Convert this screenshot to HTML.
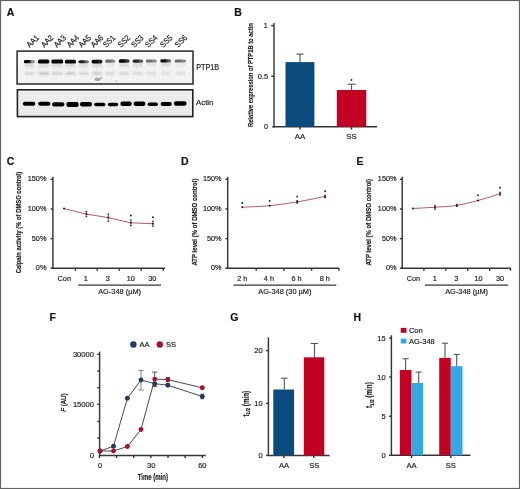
<!DOCTYPE html>
<html><head><meta charset="utf-8"><style>
html,body{margin:0;padding:0;background:#fff;}
body{width:520px;height:489px;overflow:hidden;}
svg{display:block;font-family:"Liberation Sans", sans-serif;will-change:transform;}
text{stroke:#222;stroke-width:0.18px;}
</style></head><body>
<svg width="520" height="489" viewBox="0 0 520 489">
<rect x="0" y="0" width="520" height="489" fill="#fff"/>
<defs><filter id="bl" x="-20%" y="-100%" width="140%" height="300%"><feGaussianBlur stdDeviation="0.75"/></filter><filter id="bl2" x="-20%" y="-100%" width="140%" height="300%"><feGaussianBlur stdDeviation="0.9"/></filter><linearGradient id="g1" x1="0" y1="0" x2="0" y2="1"><stop offset="0" stop-color="#fafafa"/><stop offset="0.35" stop-color="#f6f6f6"/><stop offset="0.6" stop-color="#f2f2f2"/><stop offset="1" stop-color="#f3f3f3"/></linearGradient><linearGradient id="g2" x1="0" y1="0" x2="0" y2="1"><stop offset="0" stop-color="#f2f2f2"/><stop offset="0.15" stop-color="#ececec"/><stop offset="1" stop-color="#e9e9e9"/></linearGradient></defs>
<text x="6.7" y="15.8" font-size="10.5" text-anchor="start" font-weight="bold" fill="#111" >A</text>
<text x="234.2" y="15.7" font-size="10.5" text-anchor="start" font-weight="bold" fill="#111" >B</text>
<text x="6.7" y="165" font-size="10.5" text-anchor="start" font-weight="bold" fill="#111" >C</text>
<text x="181.1" y="164.7" font-size="10.5" text-anchor="start" font-weight="bold" fill="#111" >D</text>
<text x="356.4" y="165" font-size="10.5" text-anchor="start" font-weight="bold" fill="#111" >E</text>
<text x="49.5" y="320.5" font-size="10.5" text-anchor="start" font-weight="bold" fill="#111" >F</text>
<text x="230.2" y="320.5" font-size="10.5" text-anchor="start" font-weight="bold" fill="#111" >G</text>
<text x="353.6" y="320.5" font-size="10.5" text-anchor="start" font-weight="bold" fill="#111" >H</text>
<rect x="17.1" y="51.1" width="175.9" height="32.9" fill="url(#g1)" stroke="#333" stroke-width="1.6"/>
<rect x="17.4" y="89.8" width="175.4" height="26.8" fill="url(#g2)" stroke="#222" stroke-width="1.6"/>
<defs><linearGradient id="pb0" x1="0" y1="0" x2="1" y2="0"><stop offset="0.15" stop-color="rgb(5,5,5)"/><stop offset="0.45" stop-color="rgb(5,5,5)"/><stop offset="0.75" stop-color="rgb(140,140,140)"/></linearGradient><linearGradient id="pb1" x1="0" y1="0" x2="1" y2="0"><stop offset="0.15" stop-color="rgb(5,5,5)"/><stop offset="0.45" stop-color="rgb(5,5,5)"/><stop offset="0.75" stop-color="rgb(5,5,5)"/></linearGradient><linearGradient id="pb2" x1="0" y1="0" x2="1" y2="0"><stop offset="0.15" stop-color="rgb(5,5,5)"/><stop offset="0.45" stop-color="rgb(5,5,5)"/><stop offset="0.75" stop-color="rgb(5,5,5)"/></linearGradient><linearGradient id="pb3" x1="0" y1="0" x2="1" y2="0"><stop offset="0.15" stop-color="rgb(5,5,5)"/><stop offset="0.45" stop-color="rgb(5,5,5)"/><stop offset="0.75" stop-color="rgb(16,16,16)"/></linearGradient><linearGradient id="pb4" x1="0" y1="0" x2="1" y2="0"><stop offset="0.15" stop-color="rgb(28,28,28)"/><stop offset="0.45" stop-color="rgb(28,28,28)"/><stop offset="0.75" stop-color="rgb(109,109,109)"/></linearGradient><linearGradient id="pb5" x1="0" y1="0" x2="1" y2="0"><stop offset="0.15" stop-color="rgb(5,5,5)"/><stop offset="0.45" stop-color="rgb(5,5,5)"/><stop offset="0.75" stop-color="rgb(28,28,28)"/></linearGradient><linearGradient id="pb6" x1="0" y1="0" x2="1" y2="0"><stop offset="0.15" stop-color="rgb(109,109,109)"/><stop offset="0.45" stop-color="rgb(109,109,109)"/><stop offset="0.75" stop-color="rgb(140,140,140)"/></linearGradient><linearGradient id="pb7" x1="0" y1="0" x2="1" y2="0"><stop offset="0.15" stop-color="rgb(5,5,5)"/><stop offset="0.45" stop-color="rgb(5,5,5)"/><stop offset="0.75" stop-color="rgb(56,56,56)"/></linearGradient><linearGradient id="pb8" x1="0" y1="0" x2="1" y2="0"><stop offset="0.15" stop-color="rgb(39,39,39)"/><stop offset="0.45" stop-color="rgb(39,39,39)"/><stop offset="0.75" stop-color="rgb(93,93,93)"/></linearGradient><linearGradient id="pb9" x1="0" y1="0" x2="1" y2="0"><stop offset="0.15" stop-color="rgb(109,109,109)"/><stop offset="0.45" stop-color="rgb(109,109,109)"/><stop offset="0.75" stop-color="rgb(140,140,140)"/></linearGradient><linearGradient id="pb10" x1="0" y1="0" x2="1" y2="0"><stop offset="0.15" stop-color="rgb(16,16,16)"/><stop offset="0.45" stop-color="rgb(16,16,16)"/><stop offset="0.75" stop-color="rgb(98,98,98)"/></linearGradient><linearGradient id="pb11" x1="0" y1="0" x2="1" y2="0"><stop offset="0.15" stop-color="rgb(109,109,109)"/><stop offset="0.45" stop-color="rgb(109,109,109)"/><stop offset="0.75" stop-color="rgb(140,140,140)"/></linearGradient></defs>
<rect x="24.3" y="62.8" width="9.8" height="5" fill="rgb(220,220,220)" filter="url(#bl2)"/>
<rect x="23.8" y="59.9" width="10.8" height="3.4" rx="1.6" fill="url(#pb0)" filter="url(#bl)"/>
<rect x="24.3" y="72" width="9.8" height="2.8" rx="1.2" fill="rgb(208,208,208)" filter="url(#bl2)"/>
<rect x="38.4" y="63.1" width="10.5" height="5" fill="rgb(220,220,220)" filter="url(#bl2)"/>
<rect x="37.9" y="59.6" width="11.5" height="4.0" rx="1.6" fill="url(#pb1)" filter="url(#bl)"/>
<rect x="38.4" y="72" width="10.5" height="2.8" rx="1.2" fill="rgb(195,195,195)" filter="url(#bl2)"/>
<rect x="51.8" y="63.1" width="10.900000000000006" height="5" fill="rgb(220,220,220)" filter="url(#bl2)"/>
<rect x="51.3" y="59.6" width="11.900000000000006" height="4.0" rx="1.6" fill="url(#pb2)" filter="url(#bl)"/>
<rect x="51.8" y="72" width="10.900000000000006" height="2.8" rx="1.2" fill="rgb(204,204,204)" filter="url(#bl2)"/>
<rect x="65.3" y="63.0" width="10.200000000000003" height="5" fill="rgb(220,220,220)" filter="url(#bl2)"/>
<rect x="64.8" y="59.7" width="11.200000000000003" height="3.8" rx="1.6" fill="url(#pb3)" filter="url(#bl)"/>
<rect x="65.3" y="72" width="10.200000000000003" height="2.8" rx="1.2" fill="rgb(198,198,198)" filter="url(#bl2)"/>
<rect x="78.9" y="62.7" width="9.399999999999991" height="5" fill="rgb(222,222,222)" filter="url(#bl2)"/>
<rect x="78.4" y="60.2" width="10.399999999999991" height="3.0" rx="1.6" fill="url(#pb4)" filter="url(#bl)"/>
<rect x="78.9" y="72" width="9.399999999999991" height="2.8" rx="1.2" fill="rgb(208,208,208)" filter="url(#bl2)"/>
<rect x="92.1" y="62.9" width="9.800000000000011" height="5" fill="rgb(220,220,220)" filter="url(#bl2)"/>
<rect x="91.6" y="59.8" width="10.800000000000011" height="3.6" rx="1.6" fill="url(#pb5)" filter="url(#bl)"/>
<rect x="92.1" y="72" width="9.800000000000011" height="2.8" rx="1.2" fill="rgb(201,201,201)" filter="url(#bl2)"/>
<rect x="105.7" y="62.300000000000004" width="9.0" height="5" fill="rgb(231,231,231)" filter="url(#bl2)"/>
<rect x="105.2" y="59.6" width="10.0" height="3.2" rx="1.6" fill="url(#pb6)" filter="url(#bl)"/>
<rect x="105.7" y="72" width="9.0" height="2.8" rx="1.2" fill="rgb(208,208,208)" filter="url(#bl2)"/>
<rect x="119.3" y="62.300000000000004" width="9.600000000000009" height="5" fill="rgb(220,220,220)" filter="url(#bl2)"/>
<rect x="118.8" y="59.2" width="10.600000000000009" height="3.6" rx="1.6" fill="url(#pb7)" filter="url(#bl)"/>
<rect x="119.3" y="72" width="9.600000000000009" height="2.8" rx="1.2" fill="rgb(208,208,208)" filter="url(#bl2)"/>
<rect x="133.1" y="62.3" width="9.599999999999994" height="5" fill="rgb(223,223,223)" filter="url(#bl2)"/>
<rect x="132.6" y="59.4" width="10.599999999999994" height="3.4" rx="1.6" fill="url(#pb8)" filter="url(#bl)"/>
<rect x="133.1" y="72" width="9.599999999999994" height="2.8" rx="1.2" fill="rgb(211,211,211)" filter="url(#bl2)"/>
<rect x="146.3" y="62.1" width="10.0" height="5" fill="rgb(231,231,231)" filter="url(#bl2)"/>
<rect x="145.8" y="59.6" width="11.0" height="3.0" rx="1.6" fill="url(#pb9)" filter="url(#bl)"/>
<rect x="146.3" y="72" width="10.0" height="2.8" rx="1.2" fill="rgb(217,217,217)" filter="url(#bl2)"/>
<rect x="160.8" y="62.1" width="9.699999999999989" height="5" fill="rgb(221,221,221)" filter="url(#bl2)"/>
<rect x="160.3" y="59.2" width="10.699999999999989" height="3.4" rx="1.6" fill="url(#pb10)" filter="url(#bl)"/>
<rect x="160.8" y="72" width="9.699999999999989" height="2.8" rx="1.2" fill="rgb(220,220,220)" filter="url(#bl2)"/>
<rect x="175.1" y="62.1" width="10.400000000000006" height="5" fill="rgb(231,231,231)" filter="url(#bl2)"/>
<rect x="174.6" y="59.4" width="11.400000000000006" height="3.2" rx="1.6" fill="url(#pb11)" filter="url(#bl)"/>
<rect x="175.1" y="72" width="10.400000000000006" height="2.8" rx="1.2" fill="rgb(220,220,220)" filter="url(#bl2)"/>
<ellipse cx="97.5" cy="79.2" rx="3" ry="1.8" fill="#a8a8a8" filter="url(#bl)"/>
<ellipse cx="101.2" cy="78" rx="1.3" ry="1" fill="#b0b0b0" filter="url(#bl)"/>
<ellipse cx="116.5" cy="80.8" rx="0.9" ry="0.9" fill="#b8b8b8" filter="url(#bl)"/>
<rect x="22.8" y="101.7" width="12.499999999999996" height="4.0" rx="2" fill="#050505" filter="url(#bl)"/>
<rect x="38.2" y="101.7" width="12.199999999999996" height="4.0" rx="2" fill="#050505" filter="url(#bl)"/>
<rect x="52.1" y="102.2" width="12.300000000000004" height="4.4" rx="2" fill="#050505" filter="url(#bl)"/>
<rect x="66.4" y="101.9" width="12.199999999999989" height="5.0" rx="2" fill="#050505" filter="url(#bl)"/>
<rect x="80" y="102" width="12" height="4.4" rx="2" fill="#050505" filter="url(#bl)"/>
<rect x="94.1" y="102.8" width="11.300000000000011" height="3.5" rx="2" fill="#050505" filter="url(#bl)"/>
<rect x="107.8" y="102.8" width="10.400000000000006" height="3.4" rx="2" fill="#050505" filter="url(#bl)"/>
<rect x="120.4" y="101.6" width="11.299999999999983" height="4.3" rx="2" fill="#050505" filter="url(#bl)"/>
<rect x="133.7" y="101.6" width="11.600000000000023" height="4.5" rx="2" fill="#050505" filter="url(#bl)"/>
<rect x="147.6" y="102.5" width="10.400000000000006" height="3.5" rx="2" fill="#050505" filter="url(#bl)"/>
<rect x="160.6" y="102.1" width="11.200000000000017" height="4.0" rx="2" fill="#050505" filter="url(#bl)"/>
<rect x="174" y="101.3" width="12.5" height="4.5" rx="2" fill="#050505" filter="url(#bl)"/>
<text class="lb" transform="translate(29.8,48.0) rotate(-45)" font-size="8.2" fill="#222" textLength="13.7" lengthAdjust="spacingAndGlyphs">AA1</text>
<text class="lb" transform="translate(44.2,48.0) rotate(-45)" font-size="8.2" fill="#222" textLength="13.7" lengthAdjust="spacingAndGlyphs">AA2</text>
<text class="lb" transform="translate(56.9,48.0) rotate(-45)" font-size="8.2" fill="#222" textLength="13.7" lengthAdjust="spacingAndGlyphs">AA3</text>
<text class="lb" transform="translate(69.9,48.0) rotate(-45)" font-size="8.2" fill="#222" textLength="13.7" lengthAdjust="spacingAndGlyphs">AA4</text>
<text class="lb" transform="translate(81.8,48.0) rotate(-45)" font-size="8.2" fill="#222" textLength="13.7" lengthAdjust="spacingAndGlyphs">AA5</text>
<text class="lb" transform="translate(94.1,48.0) rotate(-45)" font-size="8.2" fill="#222" textLength="13.7" lengthAdjust="spacingAndGlyphs">AA6</text>
<text class="lb" transform="translate(106.2,48.0) rotate(-45)" font-size="8.2" fill="#222" textLength="13.7" lengthAdjust="spacingAndGlyphs">SS1</text>
<text class="lb" transform="translate(121,48.0) rotate(-45)" font-size="8.2" fill="#222" textLength="13.7" lengthAdjust="spacingAndGlyphs">SS2</text>
<text class="lb" transform="translate(134.5,48.0) rotate(-45)" font-size="8.2" fill="#222" textLength="13.7" lengthAdjust="spacingAndGlyphs">SS3</text>
<text class="lb" transform="translate(148.3,48.0) rotate(-45)" font-size="8.2" fill="#222" textLength="13.7" lengthAdjust="spacingAndGlyphs">SS4</text>
<text class="lb" transform="translate(163.3,48.0) rotate(-45)" font-size="8.2" fill="#222" textLength="13.7" lengthAdjust="spacingAndGlyphs">SS5</text>
<text class="lb" transform="translate(178,48.0) rotate(-45)" font-size="8.2" fill="#222" textLength="13.7" lengthAdjust="spacingAndGlyphs">SS6</text>
<text x="196.2" y="70.1" font-size="8.2" text-anchor="start" font-weight="normal" fill="#222" textLength="23" lengthAdjust="spacingAndGlyphs">PTP1B</text>
<text x="196.1" y="105.3" font-size="7.8" text-anchor="start" font-weight="normal" fill="#222" >Actin</text>
<line x1="274" y1="22.9" x2="274" y2="127.4" stroke="#363636" stroke-width="1.45"/>
<line x1="272.2" y1="126.8" x2="377" y2="126.8" stroke="#363636" stroke-width="1.45"/>
<line x1="271.2" y1="25.6" x2="274" y2="25.6" stroke="#363636" stroke-width="1.45"/>
<line x1="271.2" y1="76.2" x2="274" y2="76.2" stroke="#363636" stroke-width="1.45"/>
<line x1="300" y1="126.8" x2="300" y2="129.6" stroke="#363636" stroke-width="1.45"/>
<line x1="351.5" y1="126.8" x2="351.5" y2="129.6" stroke="#363636" stroke-width="1.45"/>
<rect x="285.5" y="62.1" width="28.9" height="64.7" fill="#0b4a7d"/>
<rect x="336.8" y="90" width="29.5" height="36.8" fill="#c20024"/>
<line x1="300" y1="62.1" x2="300" y2="54.1" stroke="#555" stroke-width="1.1"/>
<line x1="296.5" y1="54.1" x2="303.7" y2="54.1" stroke="#555" stroke-width="1.1"/>
<line x1="351.5" y1="90" x2="351.5" y2="84.2" stroke="#555" stroke-width="1.1"/>
<line x1="347.5" y1="84.2" x2="355.6" y2="84.2" stroke="#555" stroke-width="1.1"/>
<circle cx="351.5" cy="80" r="0.9" fill="#222"/>
<text x="267.6" y="28.1" font-size="7" text-anchor="end" font-weight="normal" fill="#222" >1</text>
<text x="268" y="78.8" font-size="7.4" text-anchor="end" font-weight="normal" fill="#222" >0.5</text>
<text x="268" y="129.3" font-size="7.4" text-anchor="end" font-weight="normal" fill="#222" >0</text>
<text x="300" y="139.4" font-size="7.8" text-anchor="middle" font-weight="normal" fill="#222" >AA</text>
<text x="351.5" y="139.4" font-size="7.8" text-anchor="middle" font-weight="normal" fill="#222" >SS</text>
<text class="yl" transform="translate(252.6,75.1) rotate(-90)" x="0" y="0" font-size="7.9" font-weight="bold" text-anchor="middle" fill="#222" textLength="103.6" lengthAdjust="spacingAndGlyphs">Relative expression of PTP1B to actin</text>
<line x1="52.9" y1="176.8" x2="52.9" y2="268.8" stroke="#363636" stroke-width="1.45"/>
<line x1="51.699999999999996" y1="268.2" x2="165" y2="268.2" stroke="#363636" stroke-width="1.45"/>
<line x1="50.6" y1="179.3" x2="52.9" y2="179.3" stroke="#363636" stroke-width="1.45"/>
<text x="46.4" y="181.20000000000002" font-size="7.3" text-anchor="end" font-weight="normal" fill="#222" >150%</text>
<line x1="50.6" y1="209" x2="52.9" y2="209" stroke="#363636" stroke-width="1.45"/>
<text x="46.4" y="210.9" font-size="7.3" text-anchor="end" font-weight="normal" fill="#222" >100%</text>
<line x1="50.6" y1="238.6" x2="52.9" y2="238.6" stroke="#363636" stroke-width="1.45"/>
<text x="46.4" y="240.5" font-size="7.3" text-anchor="end" font-weight="normal" fill="#222" >50%</text>
<line x1="50.6" y1="268.2" x2="52.9" y2="268.2" stroke="#363636" stroke-width="1.45"/>
<text x="46.4" y="270.09999999999997" font-size="7.3" text-anchor="end" font-weight="normal" fill="#222" >0%</text>
<line x1="75.4" y1="268.2" x2="75.4" y2="270.8" stroke="#363636" stroke-width="1.45"/>
<line x1="97.3" y1="268.2" x2="97.3" y2="270.8" stroke="#363636" stroke-width="1.45"/>
<line x1="119.3" y1="268.2" x2="119.3" y2="270.8" stroke="#363636" stroke-width="1.45"/>
<line x1="141.2" y1="268.2" x2="141.2" y2="270.8" stroke="#363636" stroke-width="1.45"/>
<line x1="163.2" y1="268.2" x2="163.2" y2="270.8" stroke="#363636" stroke-width="1.45"/>
<text x="64.3" y="280.6" font-size="7.3" text-anchor="middle" font-weight="normal" fill="#222" >Con</text>
<text x="85.8" y="280.6" font-size="7.3" text-anchor="middle" font-weight="normal" fill="#222" >1</text>
<text x="107.7" y="280.6" font-size="7.3" text-anchor="middle" font-weight="normal" fill="#222" >3</text>
<text x="130.8" y="280.6" font-size="7.3" text-anchor="middle" font-weight="normal" fill="#222" >10</text>
<text x="152.3" y="280.6" font-size="7.3" text-anchor="middle" font-weight="normal" fill="#222" >30</text>
<line x1="78.2" y1="285.1" x2="161" y2="285.1" stroke="#363636" stroke-width="1.1"/>
<text x="119.6" y="294.4" font-size="7.4" text-anchor="middle" font-weight="normal" fill="#222" >AG-348 (µM)</text>
<text class="yl" transform="translate(21.2,222.6) rotate(-90)" x="0" y="0" font-size="7.9" font-weight="bold" text-anchor="middle" fill="#222" textLength="101.5" lengthAdjust="spacingAndGlyphs">Calpain activity (% of DMSO control)</text>
<path d="M64,208.6 L86.4,214.1 L108.3,217.6 L130.8,222.8 L152.9,223.7" fill="none" stroke="#b44e66" stroke-width="0.95"/>
<circle cx="64" cy="208.6" r="1.05" fill="#222"/>
<line x1="86.4" y1="211.5" x2="86.4" y2="216.7" stroke="#444" stroke-width="0.7"/>
<line x1="85.5" y1="211.5" x2="87.30000000000001" y2="211.5" stroke="#333" stroke-width="1.1"/>
<line x1="85.5" y1="216.7" x2="87.30000000000001" y2="216.7" stroke="#333" stroke-width="1.1"/>
<circle cx="86.4" cy="214.1" r="1.05" fill="#222"/>
<line x1="108.3" y1="214.0" x2="108.3" y2="221.2" stroke="#444" stroke-width="0.7"/>
<line x1="107.39999999999999" y1="214.0" x2="109.2" y2="214.0" stroke="#333" stroke-width="1.1"/>
<line x1="107.39999999999999" y1="221.2" x2="109.2" y2="221.2" stroke="#333" stroke-width="1.1"/>
<circle cx="108.3" cy="217.6" r="1.05" fill="#222"/>
<line x1="130.8" y1="220.0" x2="130.8" y2="225.60000000000002" stroke="#444" stroke-width="0.7"/>
<line x1="129.9" y1="220.0" x2="131.70000000000002" y2="220.0" stroke="#333" stroke-width="1.1"/>
<line x1="129.9" y1="225.60000000000002" x2="131.70000000000002" y2="225.60000000000002" stroke="#333" stroke-width="1.1"/>
<circle cx="130.8" cy="222.8" r="1.05" fill="#222"/>
<line x1="152.9" y1="221.2" x2="152.9" y2="226.2" stroke="#444" stroke-width="0.7"/>
<line x1="152.0" y1="221.2" x2="153.8" y2="221.2" stroke="#333" stroke-width="1.1"/>
<line x1="152.0" y1="226.2" x2="153.8" y2="226.2" stroke="#333" stroke-width="1.1"/>
<circle cx="152.9" cy="223.7" r="1.05" fill="#222"/>
<circle cx="130.8" cy="215.5" r="0.95" fill="#222"/>
<circle cx="152.9" cy="217.3" r="0.95" fill="#222"/>
<line x1="227.7" y1="176.8" x2="227.7" y2="268.8" stroke="#363636" stroke-width="1.45"/>
<line x1="226.5" y1="268.2" x2="339" y2="268.2" stroke="#363636" stroke-width="1.45"/>
<line x1="225.39999999999998" y1="179.3" x2="227.7" y2="179.3" stroke="#363636" stroke-width="1.45"/>
<text x="221.6" y="181.20000000000002" font-size="7.3" text-anchor="end" font-weight="normal" fill="#222" >150%</text>
<line x1="225.39999999999998" y1="209" x2="227.7" y2="209" stroke="#363636" stroke-width="1.45"/>
<text x="221.6" y="210.9" font-size="7.3" text-anchor="end" font-weight="normal" fill="#222" >100%</text>
<line x1="225.39999999999998" y1="238.6" x2="227.7" y2="238.6" stroke="#363636" stroke-width="1.45"/>
<text x="221.6" y="240.5" font-size="7.3" text-anchor="end" font-weight="normal" fill="#222" >50%</text>
<line x1="225.39999999999998" y1="268.2" x2="227.7" y2="268.2" stroke="#363636" stroke-width="1.45"/>
<text x="221.6" y="270.09999999999997" font-size="7.3" text-anchor="end" font-weight="normal" fill="#222" >0%</text>
<line x1="256.2" y1="268.2" x2="256.2" y2="270.8" stroke="#363636" stroke-width="1.45"/>
<line x1="283.9" y1="268.2" x2="283.9" y2="270.8" stroke="#363636" stroke-width="1.45"/>
<line x1="311.6" y1="268.2" x2="311.6" y2="270.8" stroke="#363636" stroke-width="1.45"/>
<line x1="338.9" y1="268.2" x2="338.9" y2="270.8" stroke="#363636" stroke-width="1.45"/>
<text x="242.3" y="280.6" font-size="7.3" text-anchor="middle" font-weight="normal" fill="#222" >2 h</text>
<text x="268.9" y="280.6" font-size="7.3" text-anchor="middle" font-weight="normal" fill="#222" >4 h</text>
<text x="296.6" y="280.6" font-size="7.3" text-anchor="middle" font-weight="normal" fill="#222" >6 h</text>
<text x="324.8" y="280.6" font-size="7.3" text-anchor="middle" font-weight="normal" fill="#222" >8 h</text>
<line x1="233.5" y1="285.1" x2="336.3" y2="285.1" stroke="#363636" stroke-width="1.1"/>
<text x="284.9" y="294.4" font-size="7.4" text-anchor="middle" font-weight="normal" fill="#222" >AG-348 (30 µM)</text>
<text class="yl" transform="translate(196.8,222.1) rotate(-90)" x="0" y="0" font-size="7.9" font-weight="bold" text-anchor="middle" fill="#222" textLength="87" lengthAdjust="spacingAndGlyphs">ATP level (% of DMSO control)</text>
<path d="M242.3,207.2 C246.87,206.95 260.55,206.58 269.7,205.7 C278.85,204.82 287.97,203.45 297.2,201.9 C306.43,200.35 320.45,197.32 325.1,196.4" fill="none" stroke="#b44e66" stroke-width="0.95"/>
<circle cx="242.3" cy="207.2" r="1.05" fill="#222"/>
<circle cx="269.7" cy="205.7" r="1.05" fill="#222"/>
<line x1="297.2" y1="200.70000000000002" x2="297.2" y2="203.1" stroke="#444" stroke-width="0.7"/>
<line x1="296.3" y1="200.70000000000002" x2="298.09999999999997" y2="200.70000000000002" stroke="#333" stroke-width="1.1"/>
<line x1="296.3" y1="203.1" x2="298.09999999999997" y2="203.1" stroke="#333" stroke-width="1.1"/>
<circle cx="297.2" cy="201.9" r="1.05" fill="#222"/>
<line x1="325.1" y1="195.20000000000002" x2="325.1" y2="197.6" stroke="#444" stroke-width="0.7"/>
<line x1="324.20000000000005" y1="195.20000000000002" x2="326.0" y2="195.20000000000002" stroke="#333" stroke-width="1.1"/>
<line x1="324.20000000000005" y1="197.6" x2="326.0" y2="197.6" stroke="#333" stroke-width="1.1"/>
<circle cx="325.1" cy="196.4" r="1.05" fill="#222"/>
<circle cx="242.3" cy="203" r="0.95" fill="#222"/>
<circle cx="269.7" cy="200.9" r="0.95" fill="#222"/>
<circle cx="297.2" cy="196.6" r="0.95" fill="#222"/>
<circle cx="325.1" cy="191.3" r="0.95" fill="#222"/>
<line x1="402.2" y1="176.8" x2="402.2" y2="268.8" stroke="#363636" stroke-width="1.45"/>
<line x1="401.0" y1="268.2" x2="511" y2="268.2" stroke="#363636" stroke-width="1.45"/>
<line x1="399.9" y1="179.3" x2="402.2" y2="179.3" stroke="#363636" stroke-width="1.45"/>
<text x="396.5" y="181.20000000000002" font-size="7.3" text-anchor="end" font-weight="normal" fill="#222" >150%</text>
<line x1="399.9" y1="209" x2="402.2" y2="209" stroke="#363636" stroke-width="1.45"/>
<text x="396.5" y="210.9" font-size="7.3" text-anchor="end" font-weight="normal" fill="#222" >100%</text>
<line x1="399.9" y1="238.6" x2="402.2" y2="238.6" stroke="#363636" stroke-width="1.45"/>
<text x="396.5" y="240.5" font-size="7.3" text-anchor="end" font-weight="normal" fill="#222" >50%</text>
<line x1="399.9" y1="268.2" x2="402.2" y2="268.2" stroke="#363636" stroke-width="1.45"/>
<text x="396.5" y="270.09999999999997" font-size="7.3" text-anchor="end" font-weight="normal" fill="#222" >0%</text>
<line x1="423.9" y1="268.2" x2="423.9" y2="270.8" stroke="#363636" stroke-width="1.45"/>
<line x1="445.8" y1="268.2" x2="445.8" y2="270.8" stroke="#363636" stroke-width="1.45"/>
<line x1="467.7" y1="268.2" x2="467.7" y2="270.8" stroke="#363636" stroke-width="1.45"/>
<line x1="489.7" y1="268.2" x2="489.7" y2="270.8" stroke="#363636" stroke-width="1.45"/>
<line x1="510.5" y1="268.2" x2="510.5" y2="270.8" stroke="#363636" stroke-width="1.45"/>
<text x="413.5" y="280.6" font-size="7.3" text-anchor="middle" font-weight="normal" fill="#222" >Con</text>
<text x="434.7" y="280.6" font-size="7.3" text-anchor="middle" font-weight="normal" fill="#222" >1</text>
<text x="456.2" y="280.6" font-size="7.3" text-anchor="middle" font-weight="normal" fill="#222" >3</text>
<text x="478.6" y="280.6" font-size="7.3" text-anchor="middle" font-weight="normal" fill="#222" >10</text>
<text x="500" y="280.6" font-size="7.3" text-anchor="middle" font-weight="normal" fill="#222" >30</text>
<line x1="425" y1="285.1" x2="508.2" y2="285.1" stroke="#363636" stroke-width="1.1"/>
<text x="466.6" y="294.4" font-size="7.4" text-anchor="middle" font-weight="normal" fill="#222" >AG-348 (µM)</text>
<text class="yl" transform="translate(370.6,222.3) rotate(-90)" x="0" y="0" font-size="7.9" font-weight="bold" text-anchor="middle" fill="#222" textLength="86.6" lengthAdjust="spacingAndGlyphs">ATP level (% of DMSO control)</text>
<path d="M413,208.5 C416.67,208.28 427.70,207.72 435,207.2 C442.30,206.68 449.63,206.52 456.8,205.4 C463.97,204.28 470.78,202.45 478,200.5 C485.22,198.55 496.42,194.83 500.1,193.7" fill="none" stroke="#b44e66" stroke-width="0.95"/>
<circle cx="413" cy="208.5" r="1.05" fill="#222"/>
<line x1="435" y1="205.29999999999998" x2="435" y2="209.1" stroke="#444" stroke-width="0.7"/>
<line x1="434.1" y1="205.29999999999998" x2="435.9" y2="205.29999999999998" stroke="#333" stroke-width="1.1"/>
<line x1="434.1" y1="209.1" x2="435.9" y2="209.1" stroke="#333" stroke-width="1.1"/>
<circle cx="435" cy="207.2" r="1.05" fill="#222"/>
<line x1="456.8" y1="204.4" x2="456.8" y2="206.4" stroke="#444" stroke-width="0.7"/>
<line x1="455.90000000000003" y1="204.4" x2="457.7" y2="204.4" stroke="#333" stroke-width="1.1"/>
<line x1="455.90000000000003" y1="206.4" x2="457.7" y2="206.4" stroke="#333" stroke-width="1.1"/>
<circle cx="456.8" cy="205.4" r="1.05" fill="#222"/>
<circle cx="478" cy="200.5" r="1.05" fill="#222"/>
<line x1="500.1" y1="192.2" x2="500.1" y2="195.2" stroke="#444" stroke-width="0.7"/>
<line x1="499.20000000000005" y1="192.2" x2="501.0" y2="192.2" stroke="#333" stroke-width="1.1"/>
<line x1="499.20000000000005" y1="195.2" x2="501.0" y2="195.2" stroke="#333" stroke-width="1.1"/>
<circle cx="500.1" cy="193.7" r="1.05" fill="#222"/>
<circle cx="478" cy="195.2" r="0.95" fill="#222"/>
<circle cx="500.1" cy="187.8" r="0.95" fill="#222"/>
<line x1="99.6" y1="351.6" x2="99.6" y2="456" stroke="#363636" stroke-width="1.45"/>
<line x1="99.0" y1="455.4" x2="205.8" y2="455.4" stroke="#363636" stroke-width="1.45"/>
<line x1="97.3" y1="354.3" x2="99.6" y2="354.3" stroke="#363636" stroke-width="1.45"/>
<line x1="97.3" y1="404.4" x2="99.6" y2="404.4" stroke="#363636" stroke-width="1.45"/>
<line x1="97.3" y1="371.1" x2="99.6" y2="371.1" stroke="#363636" stroke-width="1.45"/>
<line x1="97.3" y1="387.6" x2="99.6" y2="387.6" stroke="#363636" stroke-width="1.45"/>
<line x1="97.3" y1="421.4" x2="99.6" y2="421.4" stroke="#363636" stroke-width="1.45"/>
<line x1="97.3" y1="438.1" x2="99.6" y2="438.1" stroke="#363636" stroke-width="1.45"/>
<line x1="99.4" y1="455.4" x2="99.4" y2="458" stroke="#363636" stroke-width="1.45"/>
<line x1="116.55000000000001" y1="455.4" x2="116.55000000000001" y2="458" stroke="#363636" stroke-width="1.45"/>
<line x1="133.7" y1="455.4" x2="133.7" y2="458" stroke="#363636" stroke-width="1.45"/>
<line x1="150.85" y1="455.4" x2="150.85" y2="458" stroke="#363636" stroke-width="1.45"/>
<line x1="168.0" y1="455.4" x2="168.0" y2="458" stroke="#363636" stroke-width="1.45"/>
<line x1="185.15" y1="455.4" x2="185.15" y2="458" stroke="#363636" stroke-width="1.45"/>
<line x1="202.3" y1="455.4" x2="202.3" y2="458" stroke="#363636" stroke-width="1.45"/>
<text x="94" y="356.8" font-size="7.6" text-anchor="end" font-weight="normal" fill="#222" >30000</text>
<text x="94" y="407" font-size="7.6" text-anchor="end" font-weight="normal" fill="#222" >15000</text>
<text x="94" y="458" font-size="7.6" text-anchor="end" font-weight="normal" fill="#222" >0</text>
<text x="100" y="467.8" font-size="7.5" text-anchor="middle" font-weight="normal" fill="#222" >0</text>
<text x="151.2" y="467.8" font-size="7.5" text-anchor="middle" font-weight="normal" fill="#222" >30</text>
<text x="202.3" y="467.8" font-size="7.5" text-anchor="middle" font-weight="normal" fill="#222" >60</text>
<text x="152.8" y="479.7" font-size="8.2" text-anchor="middle" font-weight="bold" fill="#222" textLength="30.2" lengthAdjust="spacingAndGlyphs">Time (min)</text>
<text transform="translate(66,402.6) rotate(-90)" font-size="8" style="stroke-width:0.35px" text-anchor="middle" fill="#222" textLength="18.4" lengthAdjust="spacingAndGlyphs"><tspan font-style="italic">F</tspan> (AU)</text>
<line x1="141" y1="370.6" x2="141" y2="389.9" stroke="#777" stroke-width="0.9"/>
<line x1="138.3" y1="370.6" x2="143.8" y2="370.6" stroke="#777" stroke-width="0.9"/>
<line x1="138.3" y1="389.9" x2="143.8" y2="389.9" stroke="#777" stroke-width="0.9"/>
<line x1="154.7" y1="372.1" x2="154.7" y2="379" stroke="#444" stroke-width="0.9"/>
<line x1="152" y1="372.1" x2="157.2" y2="372.1" stroke="#444" stroke-width="0.9"/>
<line x1="154.7" y1="383.7" x2="154.7" y2="386.5" stroke="#444" stroke-width="0.9"/>
<line x1="152.5" y1="386.5" x2="157" y2="386.5" stroke="#444" stroke-width="0.9"/>
<line x1="202.3" y1="394.2" x2="202.3" y2="398.8" stroke="#444" stroke-width="0.9"/>
<line x1="200.5" y1="394.2" x2="204" y2="394.2" stroke="#444" stroke-width="0.9"/>
<line x1="200.5" y1="398.8" x2="204" y2="398.8" stroke="#444" stroke-width="0.9"/>
<line x1="167.8" y1="377.5" x2="167.8" y2="381.7" stroke="#444" stroke-width="0.9"/>
<line x1="165.8" y1="377.5" x2="169.8" y2="377.5" stroke="#444" stroke-width="0.9"/>
<line x1="165.8" y1="381.7" x2="169.8" y2="381.7" stroke="#444" stroke-width="0.9"/>
<polyline points="100,451 113.5,446.2 127.4,398.3 141,380 154.7,383.7 167.8,385.2 202.3,396.5" fill="none" stroke="#333" stroke-width="0.9"/>
<polyline points="100,451 113.5,451 127.4,446.5 141,429.5 154.7,379.1 167.8,379.6 202.3,387.8" fill="none" stroke="#333" stroke-width="0.9"/>
<circle cx="100" cy="451" r="2.45" fill="#1f3a5e"/>
<circle cx="113.5" cy="446.2" r="2.45" fill="#1f3a5e"/>
<circle cx="127.4" cy="398.3" r="2.45" fill="#1f3a5e"/>
<circle cx="141" cy="380" r="2.45" fill="#1f3a5e"/>
<circle cx="154.7" cy="383.7" r="2.45" fill="#1f3a5e"/>
<circle cx="167.8" cy="385.2" r="2.45" fill="#1f3a5e"/>
<circle cx="202.3" cy="396.5" r="2.45" fill="#1f3a5e"/>
<circle cx="100" cy="451" r="2.45" fill="#a3122e"/>
<circle cx="113.5" cy="451" r="2.45" fill="#a3122e"/>
<circle cx="127.4" cy="446.5" r="2.45" fill="#a3122e"/>
<circle cx="141" cy="429.5" r="2.45" fill="#a3122e"/>
<circle cx="154.7" cy="379.1" r="2.45" fill="#a3122e"/>
<circle cx="167.8" cy="379.6" r="2.45" fill="#a3122e"/>
<circle cx="202.3" cy="387.8" r="2.45" fill="#a3122e"/>
<circle cx="133.4" cy="344.5" r="3.2" fill="#1f3a5e"/>
<circle cx="159.8" cy="344.5" r="3.2" fill="#a3122e"/>
<text x="139.4" y="347.2" font-size="7.5" text-anchor="start" font-weight="normal" fill="#222" >AA</text>
<text x="166" y="347.2" font-size="7.5" text-anchor="start" font-weight="normal" fill="#222" >SS</text>
<line x1="268.4" y1="337.4" x2="268.4" y2="456" stroke="#363636" stroke-width="1.45"/>
<line x1="267.79999999999995" y1="455.4" x2="329.6" y2="455.4" stroke="#363636" stroke-width="1.45"/>
<line x1="266.09999999999997" y1="350.6" x2="268.4" y2="350.6" stroke="#363636" stroke-width="1.45"/>
<text x="262.7" y="353.20000000000005" font-size="7.5" text-anchor="end" font-weight="normal" fill="#222" >20</text>
<line x1="266.09999999999997" y1="403.4" x2="268.4" y2="403.4" stroke="#363636" stroke-width="1.45"/>
<text x="262.7" y="406.0" font-size="7.5" text-anchor="end" font-weight="normal" fill="#222" >10</text>
<line x1="266.09999999999997" y1="455.4" x2="268.4" y2="455.4" stroke="#363636" stroke-width="1.45"/>
<text x="262.7" y="458.0" font-size="7.5" text-anchor="end" font-weight="normal" fill="#222" >0</text>
<line x1="283.8" y1="455.4" x2="283.8" y2="458" stroke="#363636" stroke-width="1.45"/>
<line x1="313.8" y1="455.4" x2="313.8" y2="458" stroke="#363636" stroke-width="1.45"/>
<rect x="273.3" y="389.5" width="20.8" height="65.9" fill="#0b4a7d"/>
<rect x="303.8" y="357.3" width="20.5" height="98.1" fill="#c20024"/>
<line x1="284.3" y1="389.5" x2="284.3" y2="378.2" stroke="#555" stroke-width="1.1"/>
<line x1="280.8" y1="378.2" x2="287.6" y2="378.2" stroke="#555" stroke-width="1.1"/>
<line x1="314.5" y1="357.3" x2="314.5" y2="343.5" stroke="#555" stroke-width="1.1"/>
<line x1="310.8" y1="343.5" x2="318.2" y2="343.5" stroke="#555" stroke-width="1.1"/>
<text x="284" y="467.9" font-size="7.6" text-anchor="middle" font-weight="normal" fill="#222" >AA</text>
<text x="314.2" y="467.9" font-size="7.6" text-anchor="middle" font-weight="normal" fill="#222" >SS</text>
<text transform="translate(248.5,416.6) rotate(-90) scale(0.77,1)" font-size="8.2" font-weight="bold" fill="#222">t<tspan font-size="6.2" dy="1.8">1/2</tspan><tspan dy="-1.8" dx="2.2">(min)</tspan></text>
<line x1="391.4" y1="335.3" x2="391.4" y2="456" stroke="#363636" stroke-width="1.45"/>
<line x1="390.79999999999995" y1="455.3" x2="470.5" y2="455.3" stroke="#363636" stroke-width="1.45"/>
<line x1="389.09999999999997" y1="338" x2="391.4" y2="338" stroke="#363636" stroke-width="1.45"/>
<text x="385.6" y="340.6" font-size="7.5" text-anchor="end" font-weight="normal" fill="#222" >15</text>
<line x1="389.09999999999997" y1="377" x2="391.4" y2="377" stroke="#363636" stroke-width="1.45"/>
<text x="385.6" y="379.6" font-size="7.5" text-anchor="end" font-weight="normal" fill="#222" >10</text>
<line x1="389.09999999999997" y1="416.3" x2="391.4" y2="416.3" stroke="#363636" stroke-width="1.45"/>
<text x="385.6" y="418.90000000000003" font-size="7.5" text-anchor="end" font-weight="normal" fill="#222" >5</text>
<line x1="389.09999999999997" y1="455.3" x2="391.4" y2="455.3" stroke="#363636" stroke-width="1.45"/>
<text x="385.6" y="457.90000000000003" font-size="7.5" text-anchor="end" font-weight="normal" fill="#222" >0</text>
<line x1="411.5" y1="455.3" x2="411.5" y2="458" stroke="#363636" stroke-width="1.45"/>
<line x1="450.8" y1="455.3" x2="450.8" y2="458" stroke="#363636" stroke-width="1.45"/>
<rect x="399.8" y="370" width="11.7" height="85.3" fill="#c20024"/>
<rect x="411.5" y="383" width="11.6" height="72.3" fill="#34a8e0"/>
<rect x="439.2" y="357.9" width="11.6" height="97.4" fill="#c20024"/>
<rect x="450.8" y="366.2" width="11.7" height="89.1" fill="#34a8e0"/>
<line x1="405.6" y1="370" x2="405.6" y2="358.7" stroke="#555" stroke-width="1.1"/>
<line x1="402.6" y1="358.7" x2="408.6" y2="358.7" stroke="#555" stroke-width="1.1"/>
<line x1="418.7" y1="383" x2="418.7" y2="372.1" stroke="#555" stroke-width="1.1"/>
<line x1="415.7" y1="372.1" x2="421.7" y2="372.1" stroke="#555" stroke-width="1.1"/>
<line x1="445" y1="357.9" x2="445" y2="343.2" stroke="#555" stroke-width="1.1"/>
<line x1="442" y1="343.2" x2="448" y2="343.2" stroke="#555" stroke-width="1.1"/>
<line x1="456.7" y1="366.2" x2="456.7" y2="354.5" stroke="#555" stroke-width="1.1"/>
<line x1="453.7" y1="354.5" x2="459.7" y2="354.5" stroke="#555" stroke-width="1.1"/>
<rect x="400.7" y="327.9" width="5.8" height="4.9" fill="#c20024"/>
<rect x="400.7" y="338.6" width="5.8" height="4.9" fill="#34a8e0"/>
<text x="408.9" y="333.2" font-size="7.5" text-anchor="start" font-weight="normal" fill="#222" >Con</text>
<text x="408.9" y="343.9" font-size="7.5" text-anchor="start" font-weight="normal" fill="#222" >AG-348</text>
<text x="411.6" y="468" font-size="7.6" text-anchor="middle" font-weight="normal" fill="#222" >AA</text>
<text x="450.8" y="468" font-size="7.6" text-anchor="middle" font-weight="normal" fill="#222" >SS</text>
<text transform="translate(372.3,408) rotate(-90) scale(0.77,1)" font-size="8.2" font-weight="bold" fill="#222">t<tspan font-size="6.2" dy="1.8">1/2</tspan><tspan dy="-1.8" dx="2.2">(min)</tspan></text>
<rect x="1.5" y="1.5" width="517" height="486" fill="none" stroke="#f0f0f0" stroke-width="1"/>
<rect x="0.5" y="0.5" width="519" height="488" fill="none" stroke="#636363" stroke-width="1"/>
</svg>
</body></html>
